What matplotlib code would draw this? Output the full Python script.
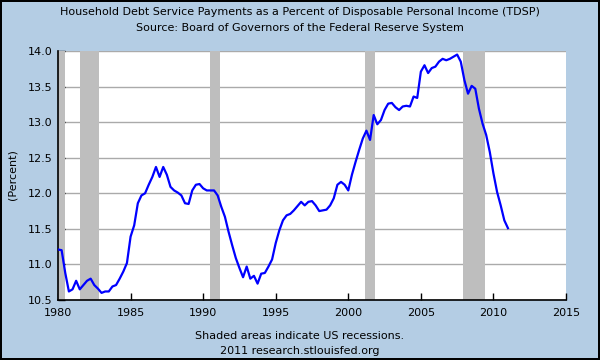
import numpy as np
import matplotlib
matplotlib.use('Agg')
import matplotlib.pyplot as plt

# quarterly TDSP, 1980Q1 .. 2011Q1
start_year = 1980
tdsp = [11.21, 11.20, 10.88, 10.62,
        10.65, 10.77, 10.65, 10.71,
        10.77, 10.80, 10.71, 10.66,
        10.60, 10.62, 10.62, 10.69,
        10.71, 10.80, 10.90, 11.02,
        11.39, 11.55, 11.86, 11.97,
        12.00, 12.12, 12.23, 12.37,
        12.23, 12.37, 12.26, 12.09,
        12.04, 12.01, 11.97, 11.86,
        11.85, 12.04, 12.12, 12.13,
        12.07, 12.04, 12.04, 12.04,
        11.97, 11.81, 11.67, 11.46,
        11.27, 11.09, 10.95, 10.82,
        10.97, 10.80, 10.84, 10.73,
        10.87, 10.88, 10.97, 11.07,
        11.30, 11.48, 11.62, 11.69,
        11.71, 11.76, 11.82, 11.88,
        11.83, 11.88, 11.89, 11.83,
        11.75, 11.76, 11.77, 11.83,
        11.93, 12.12, 12.16, 12.12,
        12.04, 12.26, 12.44, 12.61,
        12.77, 12.88, 12.75, 13.10,
        12.97, 13.03, 13.17, 13.26,
        13.27, 13.21, 13.17, 13.22,
        13.23, 13.22, 13.36, 13.34,
        13.71, 13.80, 13.69, 13.76,
        13.78, 13.85, 13.89, 13.87,
        13.89, 13.92, 13.95, 13.85,
        13.59, 13.40, 13.51, 13.47,
        13.19, 12.98, 12.82, 12.58,
        12.28, 12.02, 11.83, 11.62,
        11.51]
years = start_year + 0.25 * np.arange(len(tdsp))

# US recessions (start, end) in decimal years
rec_start = [1980.0, 1981.5, 1990.5, 2001.17, 2007.92]
rec_end = [1980.5, 1982.83, 1991.17, 2001.83, 2009.42]

x_ticks = [1980, 1985, 1990, 1995, 2000, 2005, 2010, 2015]
y_ticks = [10.5, 11.0, 11.5, 12.0, 12.5, 13.0, 13.5, 14.0]

bg = '#b4cde4'
fig = plt.figure(figsize=(6, 3.6), dpi=100, facecolor=bg,
                 edgecolor='black', linewidth=1.5)
ax = fig.add_axes([58/600, 1 - 300/360, (566 - 58)/600, (300 - 51)/360])
ax.set_facecolor('white')

for s, e in zip(rec_start, rec_end):
    ax.axvspan(s, e, color='#bebebe', lw=0, zorder=1)

ax.plot(years, tdsp, color='#0000ff', lw=1.6, zorder=3)

ax.set_xlim(1980, 2015)
ax.set_ylim(10.5, 14.0)
ax.set_xticks(x_ticks)
ax.set_yticks(y_ticks)
ax.set_yticklabels(['%.1f' % v for v in y_ticks])
ax.yaxis.grid(True, color='#aaaaaa', lw=1, zorder=0)
ax.set_axisbelow(True)
ax.tick_params(direction='in', length=5, width=1, labelsize=8, colors='black')
ax.tick_params(axis='x', pad=6)
ax.tick_params(axis='y', pad=4)
for side in ['top', 'right']:
    ax.spines[side].set_visible(False)
for side in ['left', 'bottom']:
    ax.spines[side].set_color('black')
    ax.spines[side].set_linewidth(1.2)

fig.text(13/600, 1 - 175/360, '(Percent)', rotation=90,
         ha='center', va='center', fontsize=8)

fig.text(0.5, 1 - 12/360, 'Household Debt Service Payments as a Percent of Disposable Personal Income (TDSP)',
         ha='center', va='center', fontsize=8)
fig.text(0.5, 1 - 28/360, 'Source: Board of Governors of the Federal Reserve System',
         ha='center', va='center', fontsize=8)
fig.text(0.5, 1 - 336/360, 'Shaded areas indicate US recessions.',
         ha='center', va='center', fontsize=8)
fig.text(0.5, 1 - 351/360, '2011 research.stlouisfed.org',
         ha='center', va='center', fontsize=8)

fig.savefig('out.png', dpi=100, facecolor=bg, edgecolor='black')
